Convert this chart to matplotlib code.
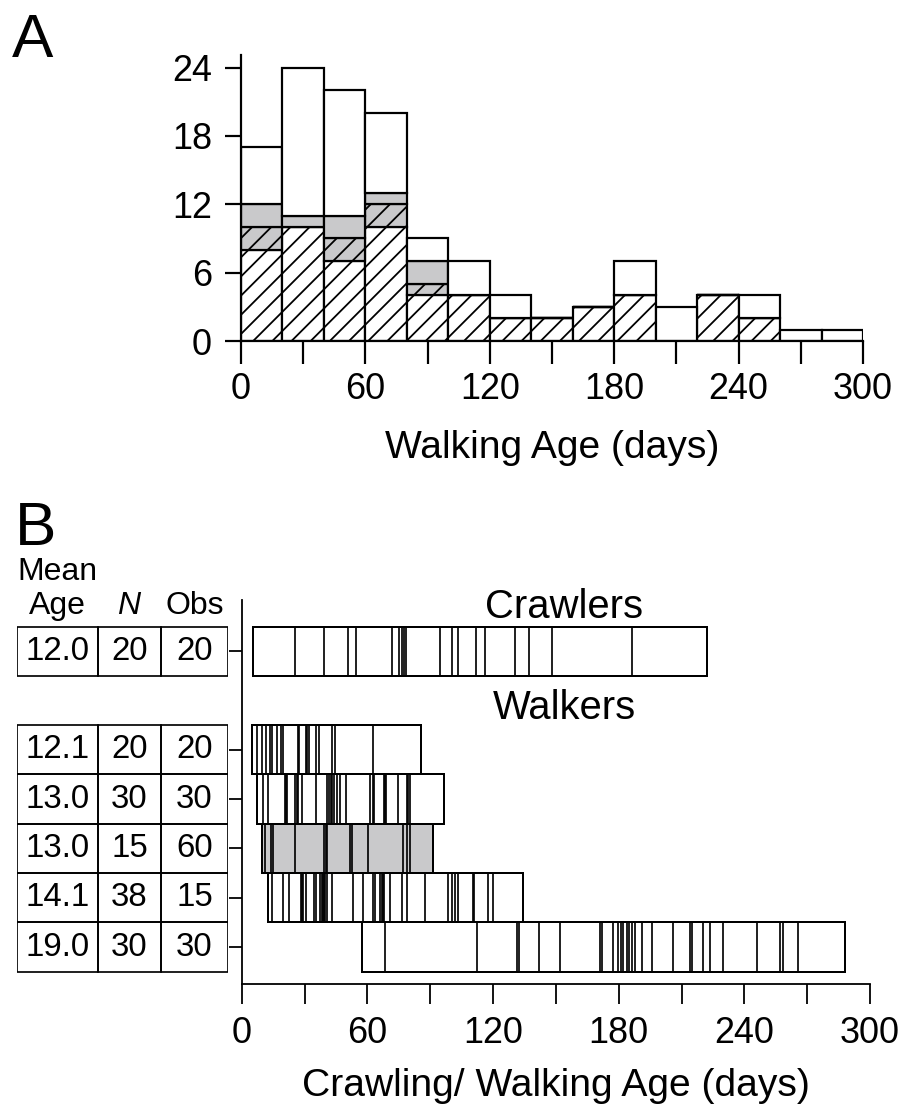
import numpy as np
import matplotlib
matplotlib.use('Agg')
import matplotlib.pyplot as plt
from matplotlib.patches import Rectangle

DPI = 115


def px(v):
    # sizes below are measured in pixels on the reference, convert to points
    return v * 72 / DPI


plt.rcParams['font.family'] = ['Liberation Sans', 'DejaVu Sans']
plt.rcParams['hatch.linewidth'] = px(1.8)

# ---- Panel A: walking age histogram (20 day bins) ----
bin_left = np.arange(0, 300, 20)
n_hatched = [8, 10, 7, 10, 4, 4, 2, 2, 3, 4, 0, 4, 2, 0, 0]
n_hatched_gray = [2, 0, 2, 2, 1, 0, 0, 0, 0, 0, 0, 0, 0, 0, 0]
n_gray = [2, 1, 2, 1, 2, 0, 0, 0, 0, 0, 0, 0, 0, 0, 0]
n_white = [5, 13, 11, 7, 2, 3, 2, 0, 0, 3, 3, 0, 2, 1, 1]

# ---- Panel B: individual crawling / walking ages per study ----
crawlers = [5.5, 25.5, 39.5, 50.6, 54.4, 71.6, 75.3, 76.7, 77.5, 78.3,
            94.7, 100.3, 103.4, 111.7, 116.2, 130.5, 137.2, 148.3, 186.2, 222.1]
walkers_121 = [4.8, 7.2, 9.5, 11.5, 13.5, 14.3, 16.7, 18.6, 19.6, 26.7,
               27.5, 30.5, 31.3, 32.1, 35.3, 37.1, 43.1, 44.4, 62.5, 85.6]
walkers_130a = [7.5, 10.3, 12.7, 20.7, 21.2, 21.6, 25.5, 26.3, 26.9, 28.6,
                35.5, 40.9, 41.8, 42.5, 43.1, 44.2, 45.7, 46.9, 49.8, 61.3,
                62.5, 63.0, 68.0, 68.4, 68.9, 74.8, 78.8, 79.6, 80.4, 96.6]
walkers_130b = [9.5, 11.1, 13.8, 14.8, 25.6, 39.5, 40.3, 40.9, 51.7, 52.7,
                60.5, 76.9, 78.8, 80.5, 91.2]
walkers_141 = [12.7, 14.3, 19.6, 22.7, 28.3, 29.0, 29.4, 30.7, 34.5, 35.5,
               37.4, 38.2, 39.0, 39.5, 39.8, 40.6, 43.0, 53.0, 57.8, 62.9,
               63.7, 66.0, 66.8, 67.3, 68.1, 70.8, 76.4, 78.8, 87.5, 98.7,
               100.3, 101.9, 103.5, 110.4, 110.9, 117.8, 120.2, 134.5]
walkers_190 = [57.6, 68.4, 112.5, 131.3, 132.4, 142.1, 152.0, 171.0, 172.2, 177.5,
               179.7, 181.1, 182.2, 183.9, 185.0, 186.4, 187.8, 191.0, 196.1, 206.1,
               214.1, 215.2, 220.4, 223.7, 230.0, 245.9, 257.1, 258.4, 265.8, 288.2]

rows = [crawlers, walkers_121, walkers_130a, walkers_130b, walkers_141, walkers_190]
row_y = [6.75, 4.75, 3.75, 2.75, 1.75, 0.75]
row_fill = ['white', 'white', 'white', '#c9c9cb', 'white', 'white']
mean_age = ['12.0', '12.1', '13.0', '13.0', '14.1', '19.0']
n_infants = ['20', '20', '30', '15', '38', '30']
n_obs = ['20', '20', '30', '60', '15', '30']

W, H = 901, 1109
fig = plt.figure(figsize=(W / DPI, H / DPI), dpi=DPI)

edge_lw = px(2.2)
tick_fs = px(36)
label_fs = px(39)

# ===== A =====
axA = fig.add_axes([241 / W, 1 - 341 / H, 622 / W, 286 / H])
bottom = np.zeros(len(bin_left))
layers = [(n_hatched, 'white', '//'), (n_hatched_gray, '#c9c9cb', '//'),
          (n_gray, '#c9c9cb', None), (n_white, 'white', None)]
for vals, fc, hatch in layers:
    axA.bar(bin_left, vals, width=20, align='edge', bottom=bottom, color=fc,
            edgecolor='black', linewidth=edge_lw, hatch=hatch)
    bottom += np.array(vals)

axA.set_xlim(0, 300)
axA.set_ylim(0, 25.1)
axA.set_xticks([0, 60, 120, 180, 240, 300])
axA.set_xticks([30, 90, 150, 210, 270], minor=True)
axA.set_yticks([0, 6, 12, 18, 24])
for s in ['top', 'right']:
    axA.spines[s].set_visible(False)
for s in ['left', 'bottom']:
    axA.spines[s].set_linewidth(edge_lw)
axA.tick_params(axis='x', which='both', direction='out', length=px(23), width=edge_lw,
                labelsize=tick_fs, pad=px(8))
axA.tick_params(axis='y', direction='out', length=px(16), width=edge_lw,
                labelsize=tick_fs, pad=px(13))
axA.set_xlabel('Walking Age (days)', fontsize=label_fs)
axA.xaxis.label.set_va('baseline')
axA.xaxis.set_label_coords(0.5, -(458 - 341) / 286)

fig.text(12 / W, 1 - 57 / H, 'A', fontsize=px(62), va='baseline', ha='left')

# ===== B =====
row_px = 49.3
b_bottom, b_top = 984, 600
axB = fig.add_axes([241.7 / W, 1 - b_bottom / H, 628.3 / W, (b_bottom - b_top) / H])
axB.set_xlim(0, 300)
axB.set_ylim(0, (b_bottom - b_top) / row_px)

for ages, y, fc in zip(rows, row_y, row_fill):
    lo, hi = min(ages), max(ages)
    axB.add_patch(Rectangle((lo, y - 0.5), hi - lo, 1, facecolor=fc,
                            edgecolor='black', linewidth=px(2)))
    axB.vlines(ages, y - 0.5, y + 0.5, color='black', linewidth=px(1.7))

axB.text(154, 7.65, 'Crawlers', fontsize=px(40), ha='center', va='center')
axB.text(154, 5.6, 'Walkers', fontsize=px(40), ha='center', va='center')

axB.set_xticks([0, 60, 120, 180, 240, 300])
axB.set_xticks([30, 90, 150, 210, 270], minor=True)
axB.set_yticks(row_y)
axB.set_yticklabels([])
for s in ['top', 'right']:
    axB.spines[s].set_visible(False)
for s in ['left', 'bottom']:
    axB.spines[s].set_linewidth(px(1.8))
axB.tick_params(axis='x', which='both', direction='out', length=px(20), width=px(1.8),
                labelsize=tick_fs, pad=px(12))
axB.tick_params(axis='y', direction='out', length=px(13), width=px(1.8))
axB.set_xlabel('Crawling/ Walking Age (days)', fontsize=label_fs)
axB.xaxis.label.set_va('baseline')
axB.xaxis.set_label_coords(0.5, -(1096 - b_bottom) / (b_bottom - b_top))

# table to the left of panel B
axT = fig.add_axes([17 / W, 1 - b_bottom / H, 211 / W, (b_bottom - b_top) / H])
axT.set_xlim(0, 211)
axT.set_ylim(0, (b_bottom - b_top) / row_px)
axT.axis('off')
col_x = [0, 81, 144]
col_w = [81, 63, 67]
table_fs = px(33)
for y, cells in zip(row_y, zip(mean_age, n_infants, n_obs)):
    for x0, w, txt in zip(col_x, col_w, cells):
        axT.add_patch(Rectangle((x0, y - 0.5), w, 1, fill=False,
                                edgecolor='black', linewidth=px(1.7)))
        axT.text(x0 + w / 2, y, txt, fontsize=table_fs, ha='center', va='center')

head_fs = px(32)
y_mean = (b_bottom - 580) / row_px
y_head = (b_bottom - 614) / row_px
axT.text(40.5, y_mean, 'Mean', fontsize=head_fs, ha='center', va='baseline', clip_on=False)
axT.text(40.5, y_head, 'Age', fontsize=head_fs, ha='center', va='baseline', clip_on=False)
axT.text(112, y_head, 'N', fontsize=head_fs, ha='center', va='baseline',
         style='italic', clip_on=False)
axT.text(178, y_head, 'Obs', fontsize=head_fs, ha='center', va='baseline', clip_on=False)

fig.text(15 / W, 1 - 545 / H, 'B', fontsize=px(62), va='baseline', ha='left')

fig.savefig('out.png', dpi=DPI)
